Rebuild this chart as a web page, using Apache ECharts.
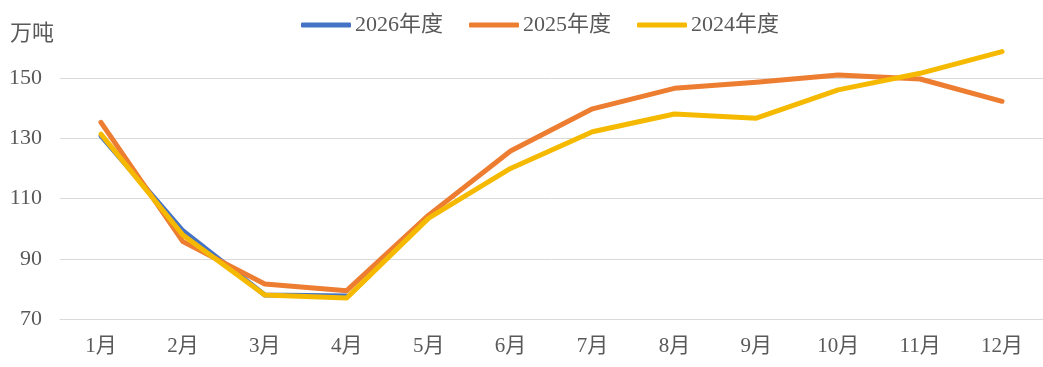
<!DOCTYPE html>
<html>
<head>
<meta charset="utf-8">
<script src="https://cdn.jsdelivr.net/npm/echarts@6/dist/echarts.min.js"></script>
<style>
  html, body { margin: 0; padding: 0; background: #fff; }
  #chart { width: 1043px; height: 367px; }
</style>
</head>
<body>
<div id="chart"></div>
<script>
// 月份
const months = ['1月', '2月', '3月', '4月', '5月', '6月', '7月', '8月', '9月', '10月', '11月', '12月'];

// 各年度数据（万吨）
const y2026 = [130.8, 99.3, 78.0, 77.6];
const y2025 = [135.3, 95.7, 81.6, 79.4, 104.5, 125.8, 139.8, 146.6, 148.6, 151.0, 149.7, 142.3];
const y2024 = [131.4, 97.9, 78.0, 77.0, 103.5, 120.0, 132.2, 138.1, 136.7, 146.1, 151.6, 158.8];

const font = '"Liberation Serif", "Noto Sans CJK SC", serif';
const textColor = '#595959';

const chart = echarts.init(document.getElementById('chart'));

const line = (name, data, color) => ({
  name,
  type: 'line',
  data,
  symbol: 'none',
  smooth: false,
  lineStyle: { color, width: 5, cap: 'round', join: 'round' },
  itemStyle: { color },
});

chart.setOption({
  animation: false,
  legend: {
    top: 9,
    left: 296,
    icon: 'roundRect',
    itemWidth: 50,
    itemHeight: 5,
    itemGap: 26,
    textStyle: { fontFamily: font, fontSize: 22, color: textColor, padding: [0, 0, 0, -1] },
    data: ['2026年度', '2025年度', '2024年度'],
  },
  grid: { left: 60, right: -5, top: 48, bottom: 48 },
  xAxis: {
    type: 'category',
    data: months,
    boundaryGap: true,
    axisLine: { lineStyle: { color: '#d9d9d9', width: 1 } },
    axisTick: { show: false },
    axisLabel: { color: textColor, fontFamily: font, fontSize: 21, margin: 17 },
  },
  yAxis: {
    type: 'value',
    min: 70,
    max: 160,
    interval: 20,
    name: '万吨',
    nameLocation: 'end',
    nameGap: 3,
    nameTextStyle: { color: textColor, fontFamily: font, fontSize: 22, align: 'left', padding: [0, 0, 0, -50] },
    axisLine: { show: false },
    axisTick: { show: false },
    axisLabel: { color: textColor, fontFamily: font, fontSize: 22, margin: 18, showMaxLabel: false },
    splitLine: {
      lineStyle: { color: ['#d9d9d9', '#d9d9d9', '#d9d9d9', '#d9d9d9', '#d9d9d9', 'rgba(0,0,0,0)'], width: 1 },
    },
  },
  series: [
    line('2026年度', y2026, '#4472C4'),
    line('2025年度', y2025, '#ED7D31'),
    line('2024年度', y2024, '#F5BA00'),
  ],
});
</script>
</body>
</html>
